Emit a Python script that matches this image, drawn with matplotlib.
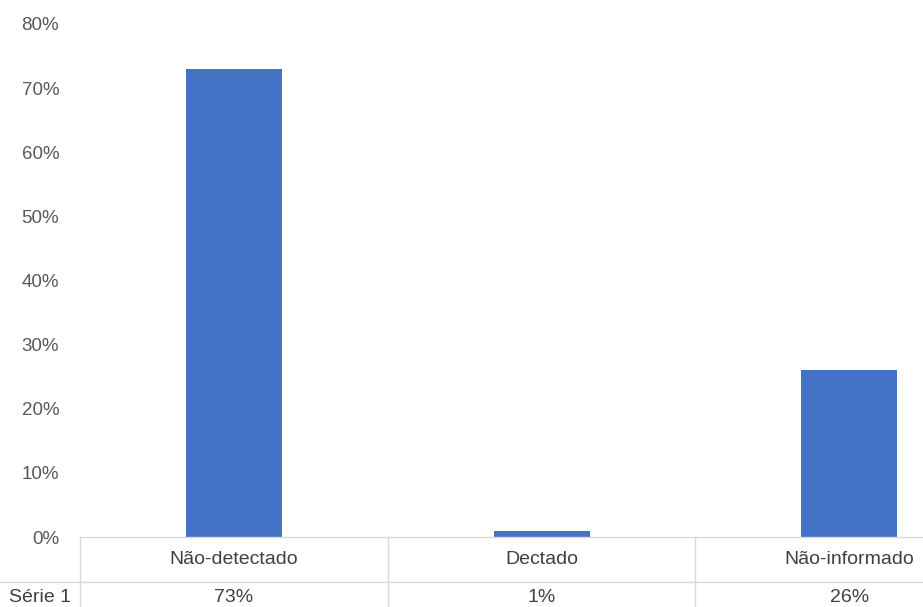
import matplotlib
matplotlib.use("Agg")
import matplotlib.pyplot as plt
from matplotlib.transforms import blended_transform_factory
from matplotlib.lines import Line2D

categories = ["Não-detectado", "Dectado", "Não-informado"]
values = [0.73, 0.01, 0.26]
value_labels = ["73%", "1%", "26%"]
series_name = "Série 1"
yticks = [0, 0.1, 0.2, 0.3, 0.4, 0.5, 0.6, 0.7, 0.8]
ytick_labels = ["0%", "10%", "20%", "30%", "40%", "50%", "60%", "70%", "80%"]

plt.rcParams['font.family'] = ['Liberation Sans', 'DejaVu Sans']

W, H = 923, 607
fig = plt.figure(figsize=(W / 100, H / 100), dpi=100)
left = 80 / W
bottom = 1 - 537 / H
top = 1 - 24 / H
ax = fig.add_axes([left, bottom, 1 - left, top - bottom])

cat_w = 307.7
xmax = (W - 80) / cat_w - 0.5
x = list(range(len(categories)))
ax.bar(x, values, width=96 / cat_w, color="#4472C4", zorder=3)
ax.set_xlim(-0.5, xmax)
ax.set_ylim(0, 0.8)
ax.set_yticks(yticks)
ax.set_yticklabels(ytick_labels, fontsize=13.5, color="#595959")
ax.tick_params(axis='y', length=0, pad=15)
ax.set_xticks([])
for s in ax.spines.values():
    s.set_visible(False)

text_col = "#404040"
line_col = "#D9D9D9"
trans = blended_transform_factory(ax.transData, fig.transFigure)

def fy(py):
    return 1 - py / H

# horizontal table lines
fig.add_artist(Line2D([left, 1], [fy(537), fy(537)], color=line_col, lw=1))
fig.add_artist(Line2D([0, 1], [fy(582), fy(582)], color=line_col, lw=1))
# vertical lines
for i in range(len(categories) + 1):
    xv = i - 0.5
    fig.add_artist(Line2D([xv, xv], [fy(537), 0], color=line_col, lw=1, transform=trans))

for i, (c, v) in enumerate(zip(categories, value_labels)):
    fig.text(i, fy(559), c, transform=trans, ha="center", va="center", fontsize=14, color=text_col)
    fig.text(i, fy(598), v, transform=trans, ha="center", va="center", fontsize=14, color=text_col)
fig.text(40 / W, fy(597), series_name, ha="center", va="center", fontsize=14, color=text_col)

fig.savefig("out.png", dpi=100)
